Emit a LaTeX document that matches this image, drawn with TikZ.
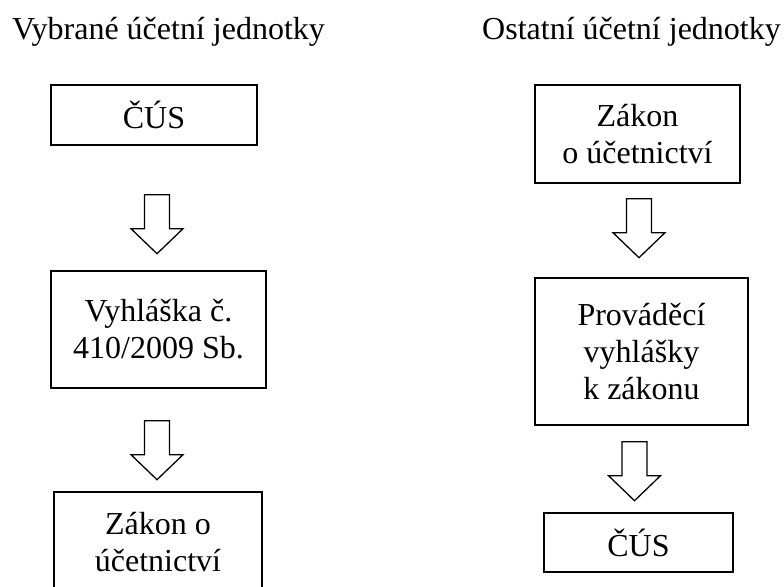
\documentclass[tikz,border=0pt]{standalone}
\usepackage{fontspec}
\setmainfont{Liberation Serif}
\usetikzlibrary{positioning, calc}

\begin{document}
\begin{tikzpicture}[
    x=1pt, y=-1pt,
    every node/.style={font=\fontsize{32}{37}\selectfont},
    box/.style={draw, line width=1.4pt, align=center, inner sep=0pt},
    pics/downarrow/.style={code={
        \draw[line width=1.3pt, line join=miter]
            (-12.5,0) -- (12.5,0) -- (12.5,34) -- (26,34) -- (0,59) -- (-26,34) -- (-12.5,34) -- cycle;
    }}
]

% Page frame
\clip (0,0) rectangle (784,586);

% Column headings
\node[anchor=base] (titleA) at (168.5,40) {Vybrané účetní jednotky};
\node[anchor=base] (titleB) at (631.5,40) {Ostatní účetní jednotky};

% Left column
\node[box, minimum width=206pt, minimum height=60pt] (cusA) at (154,115) {ČÚS};
\node[box, minimum width=215pt, minimum height=117pt] (vyhl) at (158.5,329.5) {Vyhláška č.\\410/2009 Sb.};
\node[box, minimum width=208pt, minimum height=100pt] (zakonA) at (158,542) {Zákon o\\účetnictví};

% Right column
\node[box, minimum width=205pt, minimum height=98pt] (zakonB) at (637.5,134) {Zákon\\o účetnictví};
\node[box, minimum width=213pt, minimum height=147pt] (prov) at (641.5,351.5) {Prováděcí\\vyhlášky\\k zákonu};
\node[box, minimum width=189pt, minimum height=59pt] (cusB) at (638.5,542.5) {ČÚS};

% Block arrows between the boxes
\pic at ($(cusA.south)+(3,49)$) {downarrow};
\pic at ($(vyhl.south)+(-1.5,32)$) {downarrow};
\pic at ($(zakonB.south)+(1.5,15)$) {downarrow};
\pic at ($(prov.south)+(-7,16)$) {downarrow};

\end{tikzpicture}
\end{document}
